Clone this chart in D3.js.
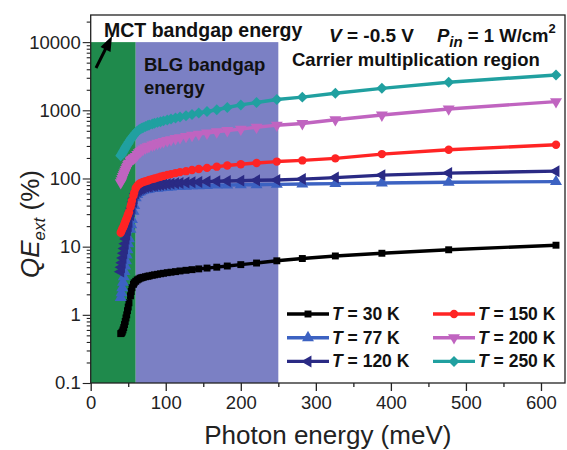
<!DOCTYPE html>
<html>
<head>
<meta charset="utf-8">
<script src="https://cdn.jsdelivr.net/npm/d3@7"></script>
<style>
  body { margin: 0; background: #fff; }
  svg { display: block; font-family: "Liberation Sans", Arial, sans-serif; }
</style>
</head>
<body>
<div id="chart"></div>
<script>
// photon energies (meV) of the measured points
const energy = [40, 41, 42, 43, 44, 45, 46, 47, 48, 49, 50, 51, 53, 54, 55, 57, 58, 60, 62, 64, 66, 68, 70, 73, 76, 78, 82, 85, 89, 93, 97, 102, 107, 113, 119, 127, 135, 144, 155, 168, 182, 200, 221, 248, 282, 326, 388, 477, 620];

// external QE (%) per temperature
const qe30 = [0.53, 0.54, 0.56, 0.6, 0.65, 0.72, 0.8, 0.9, 1.0, 1.15, 1.3, 1.5, 1.9, 2.2, 2.5, 2.8, 2.95, 3.1, 3.25, 3.35, 3.45, 3.5, 3.55, 3.62, 3.68, 3.72, 3.8, 3.86, 3.93, 4.0, 4.07, 4.15, 4.22, 4.3, 4.4, 4.5, 4.6, 4.72, 4.85, 5.0, 5.2, 5.45, 5.75, 6.2, 6.7, 7.3, 8.0, 9.0, 10.5];
const qe77 = [1.8, 2.1, 2.5, 3, 3.6, 4.3, 5.2, 6.2, 7.5, 9, 11, 13, 18, 21, 25, 33, 40, 52, 58, 62, 64, 66, 67, 68, 69, 70, 71, 72, 72, 73, 74, 74, 75, 76, 76, 77, 78, 78, 79, 80, 80, 81, 81, 82, 83, 84, 86, 88, 90];
const qe120 = [4.3, 5, 5.8, 6.8, 8, 9.4, 11, 13, 15, 17.5, 20, 23, 29, 33, 37, 45, 51, 60, 65, 68, 70, 72, 73, 75, 76, 77, 78, 79, 80, 81, 82, 83, 84, 85, 86, 87, 88, 89, 90, 91, 92, 93, 94, 95, 98, 103, 112, 120, 128];
const qe150 = [16, 17, 18, 19, 20, 21.5, 23, 24.5, 26, 28, 30, 32, 38, 42, 47, 56, 62, 72, 78, 82, 85, 87, 89, 91, 93, 95, 98, 100, 103, 106, 109, 113, 116, 120, 124, 128, 133, 138, 143, 149, 155, 162, 169, 177, 184, 197, 228, 264, 312];
const qe200 = [87, 93, 100, 107, 114, 121, 128, 136, 144, 152, 160, 168, 180, 186, 192, 198, 202, 210, 225, 238, 250, 260, 270, 282, 292, 298, 310, 318, 328, 338, 348, 360, 372, 385, 398, 415, 430, 447, 465, 485, 505, 530, 565, 605, 640, 728, 853, 1047, 1340];
const qe250 = [215, 225, 235, 245, 255, 268, 280, 292, 305, 318, 330, 345, 370, 385, 400, 425, 440, 470, 495, 515, 530, 545, 560, 580, 600, 610, 630, 645, 665, 680, 700, 720, 745, 770, 800, 830, 870, 910, 960, 1020, 1100, 1200, 1300, 1440, 1560, 1780, 2100, 2580, 3300];

const tempLabels = ['30 K', '77 K', '120 K', '150 K', '200 K', '250 K'];

// shaded regions (meV) and their vertical span (%)
const mctRange = [0, 60];
const blgRange = [60, 250];
const regionQE = [0.1, 10000];

const xTicks = [0, 100, 200, 300, 400, 500, 600];
const xMinorTicks = [50, 150, 250, 350, 450, 550];
const yTicks = [0.1, 1, 10, 100, 1000, 10000];
const yTickLabels = ['0.1', '1', '10', '100', '1000', '10000'];

const W = 567, H = 450;
const margin = { top: 15, right: 2, bottom: 67, left: 90.7 };

const svg = d3.select('#chart').append('svg').attr('width', W).attr('height', H);

const x = d3.scaleLinear().domain([0, 632]).range([margin.left, W - margin.right]);
const y = d3.scaleLog().domain([0.1, 25000]).range([H - margin.bottom, margin.top]);

// regions
svg.append('rect')
  .attr('x', x(mctRange[0])).attr('y', y(regionQE[1]))
  .attr('width', x(mctRange[1]) - x(mctRange[0]))
  .attr('height', y(regionQE[0]) - y(regionQE[1]))
  .attr('fill', '#1f8a4c');
svg.append('rect')
  .attr('x', x(blgRange[0])).attr('y', y(regionQE[1]))
  .attr('width', x(blgRange[1]) - x(blgRange[0]))
  .attr('height', y(regionQE[0]) - y(regionQE[1]))
  .attr('fill', '#7b80c4');

// frame
svg.append('rect')
  .attr('x', x.range()[0]).attr('y', y.range()[1])
  .attr('width', x.range()[1] - x.range()[0])
  .attr('height', y.range()[0] - y.range()[1])
  .attr('fill', 'none').attr('stroke', '#222').attr('stroke-width', 1.3);

// axes
const xAxis = svg.append('g').attr('transform', `translate(0,${y.range()[0]})`);
xAxis.call(d3.axisBottom(x).tickValues(xTicks).tickSize(8).tickPadding(5));
xAxis.append('g').call(d3.axisBottom(x).tickValues(xMinorTicks).tickSize(4).tickFormat(''));
xAxis.selectAll('.domain').remove();
xAxis.selectAll('line').attr('stroke', '#222').attr('stroke-width', 1.3);
xAxis.selectAll('text').attr('font-size', 18.5).attr('fill', '#222').attr('font-family', null);

const minorY = y.ticks().filter((v) => !yTicks.includes(v));
const yAxis = svg.append('g').attr('transform', `translate(${x.range()[0]},0)`);
yAxis.call(d3.axisLeft(y).tickValues(yTicks).tickSize(8).tickPadding(2)
  .tickFormat((d, i) => yTickLabels[i]));
yAxis.append('g').call(d3.axisLeft(y).tickValues(minorY).tickSize(4).tickFormat(''));
yAxis.selectAll('.domain').remove();
yAxis.selectAll('line').attr('stroke', '#222').attr('stroke-width', 1.1);
yAxis.selectAll('text').attr('font-size', 18.5).attr('fill', '#222').attr('font-family', null);

// series
const series = [
  { label: tempLabels[0], values: qe30, color: '#000000', symbol: d3.symbolSquare, rot: 0, size: 48 },
  { label: tempLabels[1], values: qe77, color: '#3c62c2', symbol: d3.symbolTriangle, rot: 0, size: 62 },
  { label: tempLabels[2], values: qe120, color: '#2a2a84', symbol: d3.symbolTriangle, rot: -90, size: 62 },
  { label: tempLabels[3], values: qe150, color: '#ff2424', symbol: d3.symbolCircle, rot: 0, size: 55 },
  { label: tempLabels[4], values: qe200, color: '#c064c0', symbol: d3.symbolTriangle, rot: 180, size: 62 },
  { label: tempLabels[5], values: qe250, color: '#20a0a0', symbol: d3.symbolSquare, rot: 45, size: 60 }
];

const line = d3.line().x((d) => x(d[0])).y((d) => y(d[1]));

series.forEach((s) => {
  const pts = energy.map((e, i) => [e, s.values[i]]);
  const g = svg.append('g');
  g.append('path').datum(pts)
    .attr('d', line)
    .attr('fill', 'none')
    .attr('stroke', s.color)
    .attr('stroke-width', 3.4)
    .attr('stroke-linejoin', 'round');
  g.selectAll('path.m').data(pts).enter().append('path')
    .attr('class', 'm')
    .attr('d', d3.symbol().type(s.symbol).size(s.size))
    .attr('transform', (d) => `translate(${x(d[0])},${y(d[1])}) rotate(${s.rot})`)
    .attr('fill', s.color);
});

// legend
const legend = svg.append('g').attr('font-size', 17.5).attr('font-weight', 'bold').attr('fill', '#111');
series.forEach((s, i) => {
  const col = Math.floor(i / 3), row = i % 3;
  const lx = 287 + col * 146, ly = 314 + row * 23.7;
  legend.append('line')
    .attr('x1', lx).attr('x2', lx + 42).attr('y1', ly).attr('y2', ly)
    .attr('stroke', s.color).attr('stroke-width', 3.4);
  legend.append('path')
    .attr('d', d3.symbol().type(s.symbol).size(s.size))
    .attr('transform', `translate(${lx + 21},${ly}) rotate(${s.rot})`)
    .attr('fill', s.color);
  const t = legend.append('text').attr('x', lx + 45).attr('y', ly + 6);
  t.append('tspan').attr('font-style', 'italic').text('T');
  t.append('tspan').text(' = ' + s.label);
});

// annotations
const ann = svg.append('g').attr('font-weight', 'bold').attr('fill', '#111');
ann.append('text').attr('x', 104).attr('y', 37).attr('font-size', 19.5).text('MCT bandgap energy');
ann.append('text').attr('x', 144).attr('y', 71).attr('font-size', 18.5).text('BLG bandgap');
ann.append('text').attr('x', 144).attr('y', 94).attr('font-size', 18.5).text('energy');

const vt = ann.append('text').attr('x', 329).attr('y', 42).attr('font-size', 19);
vt.append('tspan').attr('font-style', 'italic').text('V');
vt.append('tspan').text(' = -0.5 V');

const pt = ann.append('text').attr('x', 437).attr('y', 42).attr('font-size', 18.5);
pt.append('tspan').attr('font-style', 'italic').text('P');
pt.append('tspan').attr('font-style', 'italic').attr('font-size', 15).attr('dy', 5).text('in');
pt.append('tspan').attr('dy', -5).text(' = 1 W/cm');
pt.append('tspan').attr('font-size', 13).attr('dy', -9).text('2');

ann.append('text').attr('x', 292).attr('y', 66).attr('font-size', 18.5).text('Carrier multiplication region');

// arrow to MCT label
const arrow = svg.append('g');
arrow.append('line')
  .attr('x1', 96).attr('y1', 68).attr('x2', 106).attr('y2', 48)
  .attr('stroke', '#000').attr('stroke-width', 3);
arrow.append('path')
  .attr('d', 'M112,36 L100.5,47 L110.5,52 Z')
  .attr('fill', '#000');

// axis titles
svg.append('text')
  .attr('x', (x.range()[0] + x.range()[1]) / 2).attr('y', 444)
  .attr('text-anchor', 'middle').attr('font-size', 26).attr('fill', '#222')
  .text('Photon energy (meV)');

const yl = svg.append('text')
  .attr('transform', 'translate(39,224) rotate(-90)')
  .attr('text-anchor', 'middle').attr('font-size', 26).attr('fill', '#222');
yl.append('tspan').attr('font-style', 'italic').text('QE');
yl.append('tspan').attr('font-style', 'italic').attr('font-size', 17).attr('dy', 6).text('ext');
yl.append('tspan').attr('dy', -6).text(' (%)');
</script>
</body>
</html>
